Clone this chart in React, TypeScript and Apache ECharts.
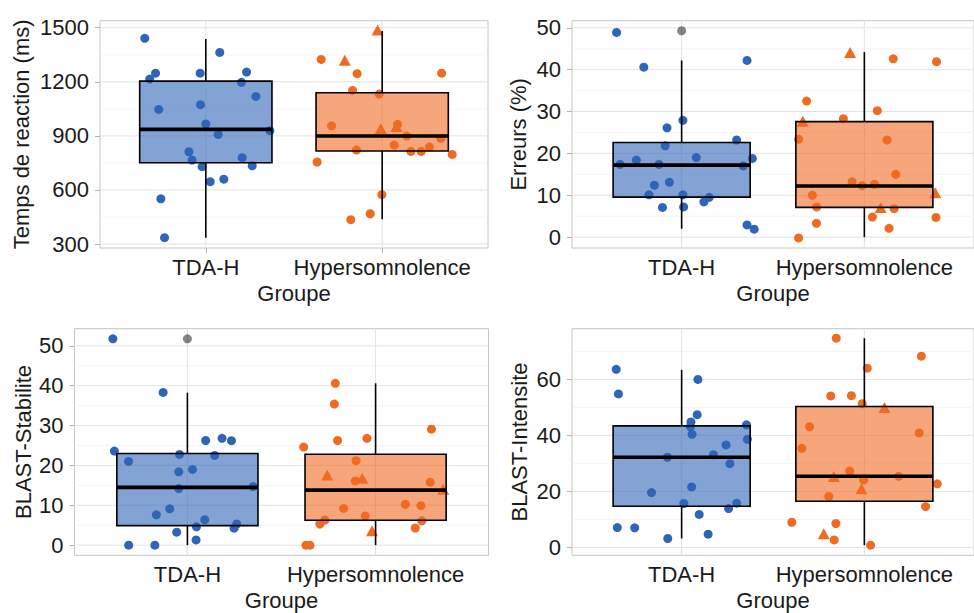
import React, { useEffect, useRef } from "react";
import * as echarts from "echarts";

const GROUPS = ["TDA-H", "Hypersomnolence"];

// ---- Panel 1 : Temps de reaction (ms) ----
const rtTdahPts = [[0.654,1441],[0.715,1248],[0.682,1215],[0.968,1248],[1.079,1363],[1.231,1254],[1.202,1197],[1.284,1119],[0.733,1047],[0.970,1073],[1.0,966],[1.07,908],[1.363,929],[0.904,812],[0.922,766],[0.979,729],[1.206,779],[1.263,734],[1.025,646],[1.102,660],[0.745,551],[0.766,335]];
const rtHyperCircles = [[1.654,1324],[1.858,1245],[1.832,1152],[1.983,1132],[2.337,1248],[1.713,956],[2.087,964],[2.140,899],[2.068,849],[1.854,821],[2.163,814],[2.221,814],[2.268,838],[2.333,886],[1.631,755],[2.397,797],[1.998,574],[1.932,468],[1.822,435]];
const rtHyperTriangles = [[1.788,1320],[1.974,1488],[1.992,940],[2.081,952]];
const rtBox = [[335,751,936,1204,1437],[437,816,899,1139,1482]];
const rtOutliers: number[][] = [];
const rtTicks = [300,600,900,1200,1500];
const rtMinor = [450,750,1050,1350];

// ---- Panel 2 : Erreurs (%) ----
const errTdahPts = [[0.644,48.9],[0.793,40.6],[1.358,42.2],[1.007,27.9],[0.920,26.1],[0.910,21.8],[1.301,23.2],[0.663,17.4],[0.752,18.4],[0.876,17.4],[1.080,19.0],[1.387,18.8],[1.337,17.0],[0.851,12.4],[0.933,13.1],[0.821,10.1],[1.007,10.1],[1.151,9.5],[1.122,8.4],[0.895,7.1],[1.011,7.2],[1.358,2.9],[1.397,1.9]];
const errHyperCircles = [[2.158,42.6],[2.395,41.9],[1.684,32.5],[1.885,28.3],[2.071,30.2],[1.640,23.4],[2.124,23.2],[2.172,15.0],[1.933,13.2],[1.988,12.3],[2.055,12.6],[1.715,10.0],[1.739,7.2],[2.163,6.8],[2.044,4.8],[2.392,4.7],[1.738,3.3],[2.135,2.1],[1.640,-0.2]];
const errHyperTriangles = [[1.922,44.1],[1.663,27.7],[2.089,7.1],[2.388,10.6]];
const errBox = [[2.0,9.55,17.2,22.6,42.2],[0,7.1,12.2,27.6,44.2]];
const errOutliers = [[1,49.3]];
const errTicks = [0,10,20,30,40,50];
const errMinor = [5,15,25,35,45];

// ---- Panel 3 : BLAST-Stabilite ----
const stabTdahPts = [[0.604,51.75],[0.871,38.3],[0.612,23.6],[0.687,21.0],[0.958,22.75],[1.097,26.25],[1.184,26.8],[1.234,26.2],[1.145,22.5],[0.954,18.4],[1.027,19.0],[0.954,14.2],[1.349,14.7],[0.835,7.6],[0.906,9.1],[1.092,6.4],[1.048,4.6],[1.262,5.3],[1.248,4.25],[0.943,3.25],[1.046,1.3],[0.688,0],[0.827,0]];
const stabHyperCircles = [[1.786,40.6],[1.781,35.4],[1.798,26.25],[1.954,26.8],[1.618,24.6],[2.297,29.1],[1.896,21.2],[1.892,16.1],[2.290,15.8],[1.830,9.2],[1.945,7.3],[2.158,10.25],[2.241,9.9],[1.731,6.3],[1.704,5.3],[2.246,6.1],[2.211,4.3],[1.630,0],[1.651,0]];
const stabHyperTriangles = [[1.743,17.6],[1.929,16.8],[1.981,3.6],[2.359,14.0]];
const stabBox = [[0,4.9,14.5,23.0,38.25],[0,6.25,13.8,22.8,40.6]];
const stabOutliers = [[1,51.75]];
const stabTicks = [0,10,20,30,40,50];
const stabMinor = [5,15,25,35,45];

// ---- Panel 4 : BLAST-Intensite ----
const intTdahPts = [[0.642,63.6],[0.654,54.8],[1.089,60.0],[1.085,47.4],[1.051,44.8],[1.048,43.1],[1.355,43.8],[1.057,40.4],[1.360,38.6],[1.243,36.6],[1.174,33.1],[0.922,32.2],[1.264,29.9],[1.055,21.6],[0.835,19.6],[1.012,15.7],[1.301,15.8],[1.257,13.9],[1.096,11.8],[0.648,7.1],[0.743,7.0],[1.145,4.75],[0.924,3.2]];
const intHyperCircles = [[1.846,74.7],[2.312,68.3],[2.016,64.0],[1.816,54.1],[1.929,54.2],[1.988,51.3],[1.700,43.1],[2.300,40.9],[1.658,35.4],[1.920,27.3],[1.996,24.1],[2.188,25.4],[2.399,22.7],[1.805,18.2],[2.335,14.6],[1.603,9.0],[1.844,8.55],[1.835,2.7],[2.034,0.8]];
const intHyperTriangles = [[2.110,50.0],[1.833,25.3],[1.984,21.0],[1.778,4.9]];
const intBox = [[3.2,14.7,32.2,43.4,63.4],[0.8,16.5,25.4,50.3,74.7]];
const intOutliers: number[][] = [];
const intTicks = [0,20,40,60];
const intMinor = [10,30,50,70];

const BLUE = "#2F65B7";
const ORANGE = "#F06A22";
const FILLS = ["rgba(47,101,183,0.6)", "rgba(240,106,34,0.6)"];
const FONT = "'Liberation Sans', Arial, Helvetica, sans-serif";
const TEXT = "#1a1a1a";

type PanelSpec = {
  rect: { left: number; top: number; width: number; height: number };
  yName: string;
  nameGap: number;
  yMin: number;
  yMax: number;
  ticks: number[];
  minor: number[];
  box: number[][];
  tdah: number[][];
  hypC: number[][];
  hypT: number[][];
  outliers: number[][];
};

const PANELS: PanelSpec[] = [
  { rect: { left: 100, top: 20.7, width: 388, height: 227.3 }, yName: "Temps de reaction (ms)", nameGap: 68, yMin: 278, yMax: 1539, ticks: rtTicks, minor: rtMinor, box: rtBox, tdah: rtTdahPts, hypC: rtHyperCircles, hypT: rtHyperTriangles, outliers: rtOutliers },
  { rect: { left: 572, top: 20.7, width: 413.6, height: 227.3 }, yName: "Erreurs (%)", nameGap: 42.5, yMin: -2.6, yMax: 51.7, ticks: errTicks, minor: errMinor, box: errBox, tdah: errTdahPts, hypC: errHyperCircles, hypT: errHyperTriangles, outliers: errOutliers },
  { rect: { left: 74.5, top: 328.7, width: 414, height: 226.6 }, yName: "BLAST-Stabilite", nameGap: 40.5, yMin: -2.55, yMax: 54.3, ticks: stabTicks, minor: stabMinor, box: stabBox, tdah: stabTdahPts, hypC: stabHyperCircles, hypT: stabHyperTriangles, outliers: stabOutliers },
  { rect: { left: 572, top: 328.7, width: 413.6, height: 226.6 }, yName: "BLAST-Intensite", nameGap: 41.5, yMin: -2.8, yMax: 78.1, ticks: intTicks, minor: intMinor, box: intBox, tdah: intTdahPts, hypC: intHyperCircles, hypT: intHyperTriangles, outliers: intOutliers },
];

function buildOption() {
  const grid: any[] = [];
  const xAxis: any[] = [];
  const yAxis: any[] = [];
  const series: any[] = [];
  const tickStyle = { color: "#b3b3b3", width: 1 };

  PANELS.forEach((p, i) => {
    grid.push({ ...p.rect, show: true, borderColor: "#c4c4c4", borderWidth: 1, backgroundColor: "transparent", containLabel: false });
    xAxis.push({
      gridIndex: i, type: "value", min: 0.4, max: 2.6,
      axisLine: { show: false },
      axisTick: { show: true, customValues: [1, 2], length: 5, lineStyle: tickStyle },
      axisLabel: { customValues: [1, 2], formatter: (v: number) => GROUPS[Math.round(v) - 1] ?? "", fontSize: 22, color: TEXT, fontFamily: FONT, margin: 8 },
      splitLine: { show: false },
      name: "Groupe", nameLocation: "middle", nameGap: 34.5,
      nameTextStyle: { fontSize: 22, color: TEXT, fontFamily: FONT },
    });
    yAxis.push({
      gridIndex: i, type: "value", min: p.yMin, max: p.yMax,
      axisLine: { show: false },
      axisTick: { show: true, customValues: p.ticks, length: 5, lineStyle: tickStyle },
      axisLabel: { customValues: p.ticks, formatter: (v: number) => String(v), fontSize: 22, color: TEXT, fontFamily: FONT, margin: 11 },
      splitLine: { show: false },
      name: p.yName, nameLocation: "middle", nameGap: p.nameGap,
      nameTextStyle: { fontSize: 22, color: TEXT, fontFamily: FONT },
    });

    const mid = (p.yMin + p.yMax) / 2;
    const gridData: number[][] = [];
    p.minor.forEach((v) => gridData.push([1.5, v, 0, 1]));
    p.ticks.forEach((v) => gridData.push([1.5, v, 0, 0]));
    [1, 2].forEach((v) => gridData.push([v, mid, 1, 0]));
    series.push({
      type: "custom", xAxisIndex: i, yAxisIndex: i, silent: true, z: 1,
      encode: { x: 0, y: 1 },
      data: gridData,
      renderItem: (params: any, api: any) => {
        const cs = params.coordSys;
        const dir = api.value(2);
        const minor = api.value(3) === 1;
        const style = { stroke: minor ? "#f1f1f1" : "#e2e2e2", lineWidth: minor ? 0.7 : 1 };
        if (dir === 0) {
          const y = api.coord([1.5, api.value(1)])[1];
          return { type: "line", shape: { x1: cs.x, y1: y, x2: cs.x + cs.width, y2: y }, style };
        }
        const x = api.coord([api.value(0), mid])[0];
        return { type: "line", shape: { x1: x, y1: cs.y, x2: x, y2: cs.y + cs.height }, style };
      },
    });

    series.push({ type: "scatter", xAxisIndex: i, yAxisIndex: i, z: 2, symbol: "circle", symbolSize: 9, itemStyle: { color: BLUE, opacity: 1 }, data: p.tdah });
    series.push({ type: "scatter", xAxisIndex: i, yAxisIndex: i, z: 2, symbol: "circle", symbolSize: 9, itemStyle: { color: ORANGE, opacity: 1 }, data: p.hypC });
    series.push({ type: "scatter", xAxisIndex: i, yAxisIndex: i, z: 2, symbol: "triangle", symbolSize: [12, 11], itemStyle: { color: ORANGE, opacity: 1 }, data: p.hypT });

    const boxData = p.box.map((b, g) => [g + 1, ...b, g]);
    series.push({
      type: "custom", xAxisIndex: i, yAxisIndex: i, z: 3, silent: true,
      encode: { x: 0, y: [1, 2, 3, 4, 5] },
      data: boxData,
      renderItem: (params: any, api: any) => {
        const cx = api.value(0);
        const g = api.value(6);
        const half = 0.375;
        const yMin = api.coord([cx, api.value(1)])[1];
        const yQ1 = api.coord([cx, api.value(2)])[1];
        const yMed = api.coord([cx, api.value(3)])[1];
        const yQ3 = api.coord([cx, api.value(4)])[1];
        const yMax = api.coord([cx, api.value(5)])[1];
        const xc = api.coord([cx, api.value(3)])[0];
        const xl = api.coord([cx - half, api.value(3)])[0];
        const xr = api.coord([cx + half, api.value(3)])[0];
        const line = { stroke: "#000", lineWidth: 1.6 };
        return {
          type: "group",
          children: [
            { type: "line", shape: { x1: xc, y1: yQ3, x2: xc, y2: yMax }, style: line },
            { type: "line", shape: { x1: xc, y1: yMin, x2: xc, y2: yQ1 }, style: line },
            { type: "rect", shape: { x: xl, y: yQ3, width: xr - xl, height: yQ1 - yQ3 }, style: { fill: FILLS[g], stroke: "#000", lineWidth: 1.6 } },
            { type: "line", shape: { x1: xl, y1: yMed, x2: xr, y2: yMed }, style: { stroke: "#000", lineWidth: 3.6 } },
          ],
        };
      },
    });

    series.push({ type: "scatter", xAxisIndex: i, yAxisIndex: i, z: 4, symbol: "circle", symbolSize: 9, itemStyle: { color: "rgba(0,0,0,0.6)" }, data: p.outliers });
  });

  return { animation: false, backgroundColor: "#ffffff", textStyle: { fontFamily: FONT }, grid, xAxis, yAxis, series };
}

export default function App() {
  const ref = useRef<HTMLDivElement>(null);
  useEffect(() => {
    if (!ref.current) return;
    const chart = echarts.init(ref.current, undefined, { renderer: "svg" });
    chart.setOption(buildOption() as any);
    return () => chart.dispose();
  }, []);
  return <div ref={ref} style={{ position: "absolute", left: 0, top: 0, width: 974, height: 613, background: "#fff" }} />;
}
